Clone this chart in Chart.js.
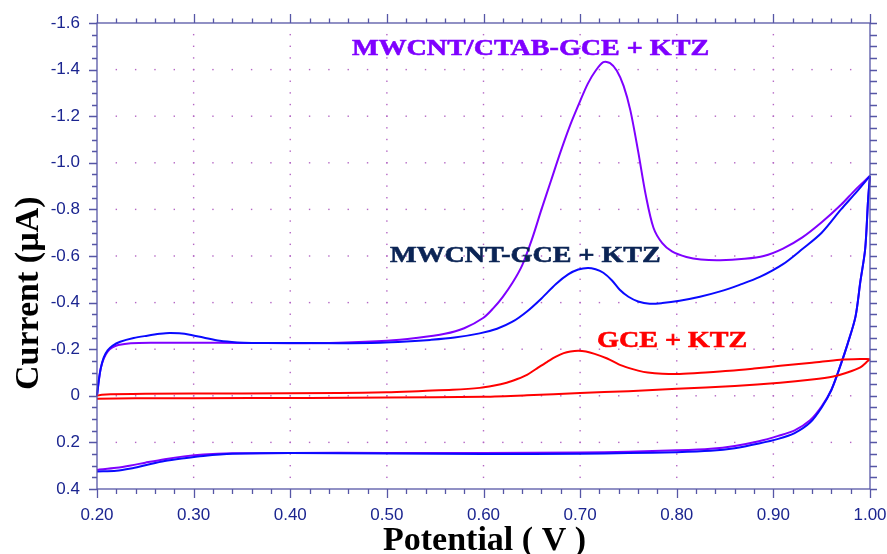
<!DOCTYPE html>
<html>
<head>
<meta charset="utf-8">
<script src="https://cdn.jsdelivr.net/npm/chart.js@4/dist/chart.umd.min.js"></script>
<style>
  body { margin: 0; background: #fff; }
  #wrap { width: 887px; height: 554px; }
</style>
</head>
<body>
<div id="wrap"><canvas id="cv" width="887" height="554"></canvas></div>
<script>
// tick labels
const potentialTicks = [0.2, 0.3, 0.4, 0.5, 0.6, 0.7, 0.8, 0.9, 1.0];
const currentTicks = [-1.6, -1.4, -1.2, -1.0, -0.8, -0.6, -0.4, -0.2, 0, 0.2, 0.4];

// MWCNT/CTAB-GCE + KTZ, forward scan
const potentialCtabFwd = [0.200, 0.202, 0.204, 0.207, 0.211, 0.216, 0.222, 0.235, 0.26, 0.30, 0.35, 0.40, 0.45, 0.50, 0.53, 0.56, 0.58, 0.60, 0.61, 0.62, 0.63, 0.64, 0.65, 0.66, 0.67, 0.68, 0.69, 0.70, 0.708, 0.716, 0.724, 0.731, 0.738, 0.745, 0.752, 0.76, 0.768, 0.776, 0.785, 0.795, 0.81, 0.825, 0.845, 0.87, 0.89, 0.91, 0.93, 0.95, 0.97, 0.985, 1.0];
const currentCtabFwd = [0, -0.07, -0.12, -0.16, -0.19, -0.208, -0.218, -0.226, -0.228, -0.228, -0.227, -0.226, -0.228, -0.236, -0.248, -0.266, -0.29, -0.335, -0.375, -0.425, -0.485, -0.56, -0.67, -0.80, -0.925, -1.05, -1.165, -1.265, -1.34, -1.395, -1.432, -1.428, -1.395, -1.33, -1.225, -1.05, -0.86, -0.72, -0.655, -0.62, -0.596, -0.585, -0.582, -0.588, -0.60, -0.632, -0.68, -0.745, -0.82, -0.885, -0.944];

// MWCNT-GCE + KTZ, forward scan
const potentialMwcntFwd = [0.20, 0.202, 0.204, 0.207, 0.211, 0.216, 0.224, 0.238, 0.252, 0.265, 0.275, 0.285, 0.296, 0.31, 0.327, 0.345, 0.36, 0.389, 0.45, 0.493, 0.52, 0.545, 0.57, 0.596, 0.614, 0.63, 0.645, 0.66, 0.675, 0.688, 0.698, 0.708, 0.716, 0.724, 0.733, 0.741, 0.75, 0.76, 0.772, 0.785, 0.803, 0.824, 0.845, 0.865, 0.886, 0.91, 0.93, 0.95, 0.97, 0.985, 1.0];
const currentMwcntFwd = [0, -0.07, -0.12, -0.165, -0.195, -0.215, -0.232, -0.248, -0.258, -0.266, -0.27, -0.268, -0.262, -0.25, -0.236, -0.229, -0.227, -0.227, -0.226, -0.228, -0.233, -0.24, -0.25, -0.268, -0.288, -0.318, -0.362, -0.418, -0.48, -0.522, -0.542, -0.549, -0.543, -0.528, -0.495, -0.455, -0.425, -0.405, -0.395, -0.398, -0.408, -0.425, -0.448, -0.476, -0.51, -0.565, -0.63, -0.7, -0.8, -0.87, -0.944];

// reverse scan, shared potentials for both MWCNT curves
const potentialRev = [1.0, 0.998, 0.995, 0.99, 0.985, 0.977, 0.969, 0.96, 0.95, 0.938, 0.922, 0.905, 0.885, 0.86, 0.835, 0.80, 0.75, 0.70, 0.60, 0.50, 0.40, 0.34, 0.31, 0.29, 0.27, 0.25, 0.235, 0.22, 0.20];
const currentCtabRev = [-0.944, -0.84, -0.63, -0.49, -0.34, -0.225, -0.125, -0.025, 0.045, 0.105, 0.148, 0.172, 0.195, 0.215, 0.227, 0.234, 0.24, 0.243, 0.245, 0.245, 0.245, 0.247, 0.252, 0.26, 0.272, 0.287, 0.299, 0.309, 0.318];
const currentMwcntRev = [-0.944, -0.84, -0.63, -0.49, -0.34, -0.225, -0.125, -0.025, 0.05, 0.115, 0.16, 0.185, 0.205, 0.225, 0.236, 0.242, 0.246, 0.249, 0.25, 0.248, 0.245, 0.249, 0.258, 0.268, 0.28, 0.298, 0.312, 0.322, 0.325];

// GCE + KTZ
const potentialGceFwd = [0.20, 0.205, 0.25, 0.35, 0.45, 0.50, 0.537, 0.568, 0.596, 0.61, 0.624, 0.635, 0.645, 0.655, 0.666, 0.675, 0.683, 0.69, 0.698, 0.706, 0.715, 0.728, 0.74, 0.75, 0.76, 0.77, 0.785, 0.803, 0.83, 0.855, 0.88, 0.907, 0.94, 0.969, 0.99, 1.0];
const currentGceFwd = [0, -0.005, -0.009, -0.010, -0.012, -0.015, -0.021, -0.026, -0.034, -0.043, -0.056, -0.072, -0.09, -0.117, -0.146, -0.168, -0.183, -0.19, -0.193, -0.19, -0.18, -0.16, -0.135, -0.12, -0.108, -0.1, -0.095, -0.094, -0.1, -0.107, -0.117, -0.129, -0.142, -0.155, -0.158, -0.157];
const potentialGceRev = [1.0, 0.998, 0.99, 0.975, 0.962, 0.94, 0.907, 0.86, 0.80, 0.75, 0.70, 0.645, 0.60, 0.50, 0.42, 0.30, 0.24, 0.20];
const currentGceRev = [-0.157, -0.15, -0.122, -0.098, -0.083, -0.07, -0.056, -0.042, -0.03, -0.02, -0.012, -0.002, 0.004, 0.007, 0.009, 0.010, 0.011, 0.013];

const minorStepX = 0.02;
const minorStepY = 0.05;

const axisColor = '#5656a6';
const labelColor = '#1b2590';
const dotColor = '#b466c4';

function pts(xs, ys) {
    return xs.map((x, i) => ({ x: x, y: ys[i] }));
}

function line(data, color, order) {
    return {
        data: data,
        showLine: true,
        borderColor: color,
        borderWidth: 2,
        pointRadius: 0,
        tension: 0.3,
        order: order,
        clip: 3
    };
}

// dotted grid + framed axes with outward ticks
const framePlugin = {
    id: 'frame',
    beforeDatasetsDraw(chart) {
        const ctx = chart.ctx;
        const xs = chart.scales.x, ys = chart.scales.y;
        ctx.save();
        ctx.fillStyle = dotColor;
        currentTicks.slice(1, -1).forEach(v => {
            const py = ys.getPixelForValue(v);
            for (let x = 0.2 + minorStepX; x < 0.999; x += minorStepX) {
                ctx.fillRect(xs.getPixelForValue(x) - 0.7, py - 0.7, 1.4, 1.4);
            }
        });
        potentialTicks.slice(1, -1).forEach(v => {
            const px = xs.getPixelForValue(v);
            for (let y = -1.6 + minorStepY; y < 0.399; y += minorStepY) {
                ctx.fillRect(px - 0.7, ys.getPixelForValue(y) - 0.7, 1.4, 1.4);
            }
        });
        ctx.restore();
    },
    afterDatasetsDraw(chart) {
        const ctx = chart.ctx;
        const xs = chart.scales.x, ys = chart.scales.y;
        const { left, right, top, bottom } = chart.chartArea;
        ctx.save();
        ctx.strokeStyle = axisColor;
        ctx.lineWidth = 1.3;
        ctx.strokeRect(left, top, right - left, bottom - top);
        ctx.beginPath();
        for (let i = 0; i <= 40; i++) {
            const px = Math.round(xs.getPixelForValue(0.2 + i * minorStepX)) + 0.5;
            const major = i % 5 === 0;
            ctx.moveTo(px, bottom); ctx.lineTo(px, bottom + (major ? 9 : 5));
            ctx.moveTo(px, top); ctx.lineTo(px, top - (major ? 9 : 4.5));
        }
        for (let i = 0; i <= 40; i++) {
            const py = Math.round(ys.getPixelForValue(-1.6 + i * minorStepY)) + 0.5;
            const major = i % 4 === 0;
            ctx.moveTo(left, py); ctx.lineTo(left - (major ? 8 : 5), py);
            ctx.moveTo(right, py); ctx.lineTo(right + 7, py);
        }
        ctx.stroke();
        ctx.restore();
    },
    afterDraw(chart) {
        const ctx = chart.ctx;
        const xs = chart.scales.x, ys = chart.scales.y;
        ctx.save();
        // curve labels
        const labels = [
            ['MWCNT/CTAB-GCE + KTZ', '#7f00ff', 0.4639, -1.4635],
            ['MWCNT-GCE + KTZ', '#0b2455', 0.5032, -0.575],
            ['GCE + KTZ', '#ff0000', 0.7175, -0.21]
        ];
        ctx.font = 'bold 24px "Liberation Serif", "Times New Roman", serif';
        ctx.textBaseline = 'alphabetic';
        ctx.textAlign = 'left';
        labels.forEach(([t, c, x, y]) => {
            ctx.save();
            ctx.translate(xs.getPixelForValue(x), ys.getPixelForValue(y));
            ctx.scale(1.17, 1);
            ctx.fillStyle = c;
            ctx.strokeStyle = c;
            ctx.lineWidth = 0.6;
            ctx.fillText(t, 0, 0);
            ctx.strokeText(t, 0, 0);
            ctx.restore();
        });
        // axis titles
        ctx.fillStyle = '#000';
        ctx.font = 'bold 34px "Liberation Serif", "Times New Roman", serif';
        ctx.fillText('Potential ( V )', 383, 550);
        ctx.translate(38, 390);
        ctx.rotate(-Math.PI / 2);
        ctx.fillText('Current (\u00b5A)', 0, 0);
        ctx.restore();
    }
};

new Chart(document.getElementById('cv'), {
    type: 'scatter',
    data: {
        datasets: [
            line(pts(potentialCtabFwd, currentCtabFwd), '#7f00ff', 3),
            line(pts(potentialRev, currentCtabRev), '#7f00ff', 3),
            line(pts(potentialMwcntFwd, currentMwcntFwd), '#0a0aff', 2),
            line(pts(potentialRev, currentMwcntRev), '#0a0aff', 2),
            line(pts(potentialGceFwd, currentGceFwd), '#ff0000', 1),
            line(pts(potentialGceRev, currentGceRev), '#ff0000', 1)
        ]
    },
    options: {
        responsive: false,
        animation: false,
        layout: { padding: { left: 0, top: 23, right: 17, bottom: 0 } },
        plugins: { legend: { display: false }, tooltip: { enabled: false } },
        scales: {
            x: {
                type: 'linear',
                min: 0.2,
                max: 1.0,
                afterBuildTicks: s => { s.ticks = potentialTicks.map(v => ({ value: v })); },
                afterFit: s => { s.height = 65; s.paddingLeft = 0; s.paddingRight = 0; },
                grid: { display: false, drawTicks: false },
                border: { display: false },
                ticks: {
                    padding: 16,
                    color: labelColor,
                    font: { family: '"Liberation Sans", Arial, sans-serif', size: 17 },
                    maxRotation: 0,
                    callback: v => v.toFixed(2)
                }
            },
            y: {
                type: 'linear',
                min: -1.6,
                max: 0.4,
                reverse: true,
                afterBuildTicks: s => { s.ticks = currentTicks.map(v => ({ value: v })); },
                afterFit: s => { s.width = 97; s.paddingTop = 0; s.paddingBottom = 0; },
                grid: { display: false, drawTicks: false },
                border: { display: false },
                ticks: {
                    padding: 17,
                    color: labelColor,
                    font: { family: '"Liberation Sans", Arial, sans-serif', size: 17 },
                    callback: v => (Math.abs(v) < 1e-9 ? '0' : v.toFixed(1))
                }
            }
        }
    },
    plugins: [framePlugin]
});
</script>
</body>
</html>
